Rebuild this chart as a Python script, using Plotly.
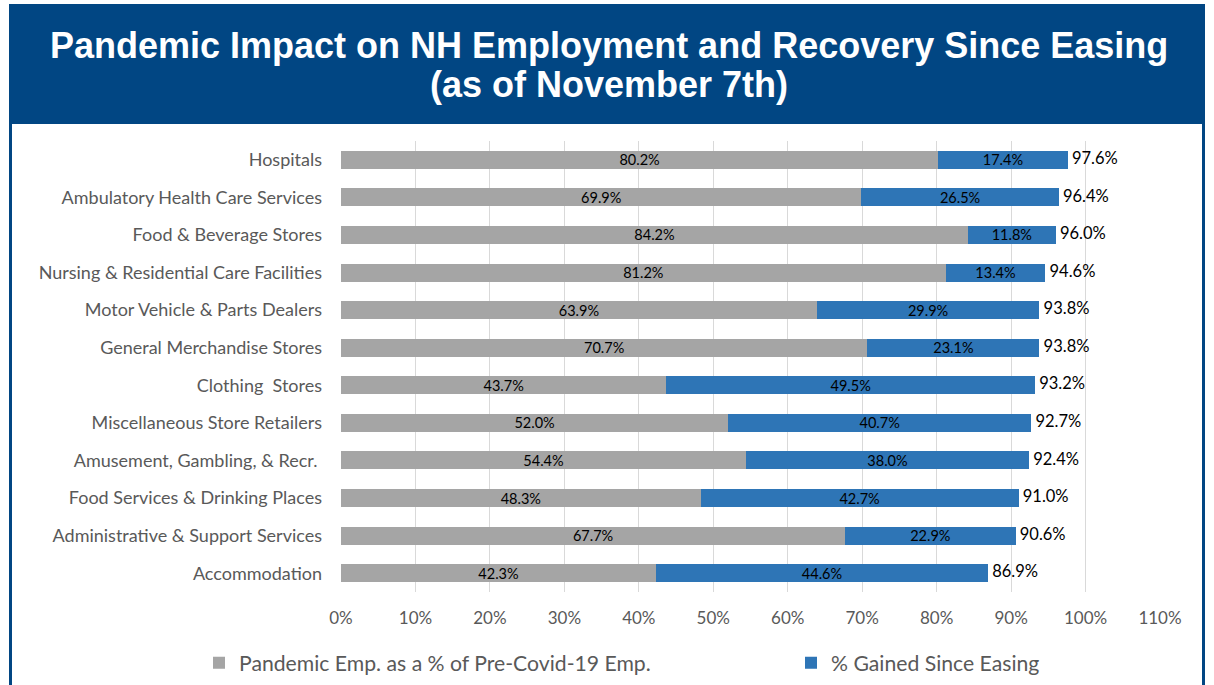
import plotly.graph_objects as go

categories = [
    "Hospitals",
    "Ambulatory Health Care Services",
    "Food & Beverage Stores",
    "Nursing & Residential Care Facilities",
    "Motor Vehicle & Parts Dealers",
    "General Merchandise Stores",
    "Clothing  Stores",
    "Miscellaneous Store Retailers",
    "Amusement, Gambling, & Recr. ",
    "Food Services & Drinking Places",
    "Administrative & Support Services",
    "Accommodation",
]
pandemic_emp = [80.2, 69.9, 84.2, 81.2, 63.9, 70.7, 43.7, 52.0, 54.4, 48.3, 67.7, 42.3]
gained_since_easing = [17.4, 26.5, 11.8, 13.4, 29.9, 23.1, 49.5, 40.7, 38.0, 42.7, 22.9, 44.6]
totals = [97.6, 96.4, 96.0, 94.6, 93.8, 93.8, 93.2, 92.7, 92.4, 91.0, 90.6, 86.9]
x_ticks = [0, 10, 20, 30, 40, 50, 60, 70, 80, 90, 100, 110]
x_tick_labels = ["0%", "10%", "20%", "30%", "40%", "50%", "60%", "70%", "80%", "90%", "100%", "110%"]

W, H = 1214, 685
GREY = "#A5A5A5"
BLUE = "#2E75B6"
NAVY = "#014683"
TXT = "#595959"
FONT = "Lato"

def fx(px):
    return px / W

def fy(py):
    return 1 - py / H

fig = go.Figure()
fig.add_trace(go.Bar(
    y=categories, x=pandemic_emp, orientation="h",
    name="Pandemic Emp. as a % of Pre-Covid-19 Emp.",
    marker=dict(color=GREY, line=dict(width=0)),
    text=[f"{v:.1f}%" for v in pandemic_emp], textposition="inside",
    insidetextanchor="middle", constraintext="none",
    textfont=dict(color="black", size=14.5, family=FONT),
    hoverinfo="skip", legend="legend",
))
fig.add_trace(go.Bar(
    y=categories, x=gained_since_easing, orientation="h",
    name="% Gained Since Easing",
    marker=dict(color=BLUE, line=dict(width=0)),
    text=[f"{v:.1f}%" for v in gained_since_easing], textposition="inside",
    insidetextanchor="middle", constraintext="none",
    textfont=dict(color="black", size=14.5, family=FONT),
    hoverinfo="skip", legend="legend2",
))
fig.add_trace(go.Scatter(
    y=categories, x=totals, mode="text",
    text=[f"\u00a0{v:.1f}%" for v in totals], textposition="middle right",
    textfont=dict(color="black", size=16.5, family=FONT),
    showlegend=False, hoverinfo="skip",
))

shapes = [
    dict(type="rect", xref="paper", yref="paper",
         x0=fx(9), x1=fx(1205), y0=fy(124), y1=fy(4),
         fillcolor=NAVY, line=dict(width=0), layer="below"),
    dict(type="line", xref="paper", yref="paper",
         x0=fx(10.5), x1=fx(10.5), y0=fy(124), y1=0,
         line=dict(color=NAVY, width=3)),
    dict(type="line", xref="paper", yref="paper",
         x0=fx(1203.5), x1=fx(1203.5), y0=fy(124), y1=0,
         line=dict(color=NAVY, width=3)),
]

annotations = [
    dict(text="<b>Pandemic Impact on NH Employment and Recovery Since Easing</b>",
         xref="paper", yref="paper", x=fx(609), y=fy(46), showarrow=False,
         xanchor="center", yanchor="middle",
         font=dict(family="Liberation Sans", size=36, color="white")),
    dict(text="<b>(as of November 7th)</b>",
         xref="paper", yref="paper", x=fx(609), y=fy(84), showarrow=False,
         xanchor="center", yanchor="middle",
         font=dict(family="Liberation Sans", size=36, color="white")),
]

legend_common = dict(orientation="h", yanchor="middle", xanchor="left",
                     font=dict(family=FONT, size=21.2, color=TXT),
                     bgcolor="rgba(0,0,0,0)")

fig.update_layout(
    width=W, height=H,
    margin=dict(l=0, r=0, t=0, b=0, autoexpand=False),
    paper_bgcolor="white", plot_bgcolor="white",
    barmode="stack", bargap=0.52,
    showlegend=True,
    legend=dict(x=fx(199), y=fy(663), **legend_common),
    legend2=dict(x=fx(791), y=fy(663), **legend_common),
    xaxis=dict(domain=[fx(341), fx(1160)], range=[0, 110], tickvals=x_ticks,
               ticktext=x_tick_labels, showgrid=True, gridcolor="#D9D9D9", gridwidth=1,
               zeroline=False, showline=False, ticks="", ticklabelstandoff=14,
               tickfont=dict(family=FONT, size=17, color=TXT), fixedrange=True),
    yaxis=dict(domain=[fy(592), fy(141)], range=[len(categories) - 0.5, -0.5],
               autorange=False, showgrid=False,
               ticks="", ticklabelstandoff=18, showline=False,
               tickfont=dict(family=FONT, size=18, color=TXT), fixedrange=True),
    shapes=shapes, annotations=annotations,
)

fig.write_html(
    "out.html",
    config={"displayModeBar": False},
    post_script="document.body.style.margin='0';document.body.style.overflow='hidden';",
)
